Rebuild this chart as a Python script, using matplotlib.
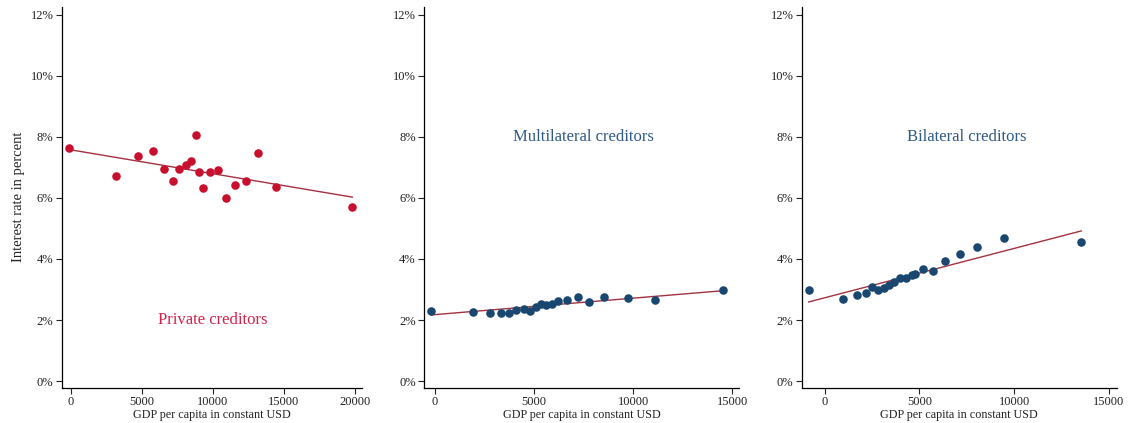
import matplotlib.pyplot as plt
from matplotlib.ticker import FuncFormatter

# binned scatter points: GDP per capita (USD) and interest rate (%)
private_gdp = [-130, 3200, 4770, 5820, 6550, 7190, 7630, 8100, 8470, 8830,
               9040, 9340, 9830, 10350, 10910, 11570, 12320, 13190, 14430, 19820]
private_rate = [7.65, 6.73, 7.37, 7.53, 6.96, 6.55, 6.96, 7.08, 7.22, 8.07,
                6.84, 6.32, 6.84, 6.92, 5.99, 6.44, 6.55, 7.48, 6.37, 5.71]

multi_gdp = [-185, 1935, 2790, 3310, 3720, 4100, 4470, 4790, 5100, 5350,
             5620, 5890, 6210, 6660, 7200, 7750, 8540, 9720, 11100, 14530]
multi_rate = [2.29, 2.25, 2.23, 2.24, 2.22, 2.32, 2.35, 2.31, 2.41, 2.51,
              2.49, 2.51, 2.63, 2.65, 2.75, 2.58, 2.75, 2.72, 2.66, 2.98]

bilat_gdp = [-845, 950, 1705, 2160, 2510, 2810, 3110, 3375, 3675, 3990,
             4290, 4590, 4750, 5170, 5700, 6365, 7120, 8040, 9445, 13540]
bilat_rate = [2.98, 2.68, 2.82, 2.89, 3.07, 2.98, 3.06, 3.16, 3.24, 3.37,
              3.39, 3.47, 3.52, 3.67, 3.60, 3.95, 4.16, 4.39, 4.68, 4.57]

# linear fit (intercept in %, slope in % per USD)
private_fit = (7.58, -0.0783e-3)
multi_fit = (2.177, 0.0539e-3)
bilat_fit = (2.728, 0.1619e-3)

RED = '#c8102e'
BLUE = '#1a476f'
LINE = '#a3323f'

plt.rcParams['font.family'] = ['Liberation Serif', 'DejaVu Serif']

fig = plt.figure(figsize=(11.28, 4.23), dpi=100)

panels = [
    dict(gdp=private_gdp, rate=private_rate, fit=private_fit, color=RED,
         label='Private creditors', text_color='#d2234b', text_pos=(10000, 2.0),
         rect=[0.0547, 0.0834, 0.2662, 0.9007], xlim=(-620, 20500),
         xticks=[0, 5000, 10000, 15000, 20000]),
    dict(gdp=multi_gdp, rate=multi_rate, fit=multi_fit, color=BLUE,
         label='Multilateral creditors', text_color='#2f5a85', text_pos=(7500, 8.0),
         rect=[0.3759, 0.0834, 0.2795, 0.9007], xlim=(-555, 15350),
         xticks=[0, 5000, 10000, 15000]),
    dict(gdp=bilat_gdp, rate=bilat_rate, fit=bilat_fit, color=BLUE,
         label='Bilateral creditors', text_color='#2f5a85', text_pos=(7500, 8.0),
         rect=[0.7107, 0.0834, 0.2793, 0.9007], xlim=(-1214, 15410),
         xticks=[0, 5000, 10000, 15000]),
]

for i, p in enumerate(panels):
    ax = fig.add_axes(p['rect'])
    ax.scatter(p['gdp'], p['rate'], s=38, color=p['color'], zorder=3,
               linewidths=0)
    x0, x1 = min(p['gdp']), max(p['gdp'])
    a, b = p['fit']
    ax.plot([x0, x1], [a + b * x0, a + b * x1], color=LINE, lw=1.0, zorder=2)
    ax.text(p['text_pos'][0], p['text_pos'][1], p['label'], color=p['text_color'],
            fontsize=12, ha='center', va='center')

    ax.set_xlim(*p['xlim'])
    ax.set_ylim(-0.22, 12.27)
    ax.set_xticks(p['xticks'])
    ax.set_yticks([0, 2, 4, 6, 8, 10, 12])
    ax.yaxis.set_major_formatter(FuncFormatter(lambda v, pos: f'{v:.0f}%'))
    for side in ['top', 'right']:
        ax.spines[side].set_visible(False)
    for side in ['left', 'bottom']:
        ax.spines[side].set_linewidth(0.9)
    ax.tick_params(direction='out', length=4, width=0.8, labelsize=9,
                   colors='#222222', pad=2)
    ax.set_xlabel('GDP per capita in constant USD', fontsize=8.7,
                  color='#222222', labelpad=1)
    if i == 0:
        ax.set_ylabel('Interest rate in percent', fontsize=10.5,
                      color='#222222', labelpad=4)

fig.savefig('out.png', dpi=100)
